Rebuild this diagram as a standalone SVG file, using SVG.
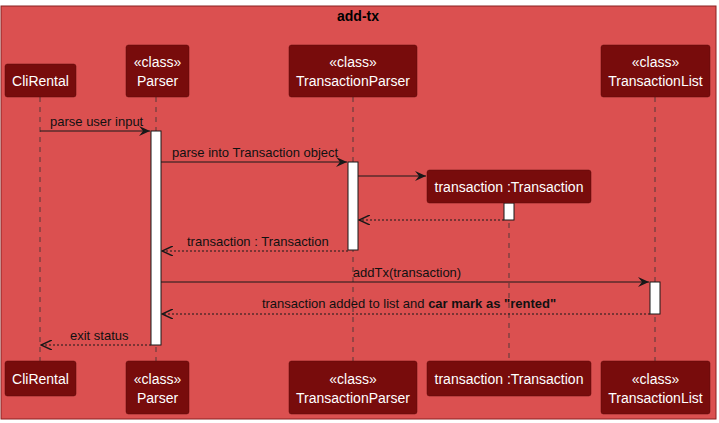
<svg xmlns="http://www.w3.org/2000/svg" width="719" height="423" viewBox="0 0 719 423">
<defs>
<style>
.p{fill:#780C0C;stroke:#5A0A0A;stroke-width:0.5}
.pt{fill:#FFFFFF;font-family:"Liberation Sans",Arial,sans-serif;font-size:14px;text-anchor:middle}
.ll{stroke:#333;stroke-width:0.8;stroke-dasharray:5,5}
.act{fill:#FFFFFF;stroke:#181818;stroke-width:1}
.m{stroke:#181818;stroke-width:1;fill:none}
.r{stroke:#181818;stroke-width:1;fill:none;stroke-dasharray:2,2}
.ml{fill:#111;font-family:"Liberation Sans",Arial,sans-serif;font-size:13px}
</style>
<marker id="ah" viewBox="0 0 12 10" refX="11" refY="5" markerWidth="12" markerHeight="10" markerUnits="userSpaceOnUse" orient="auto">
<polygon points="0,0 11,5 0,10 4,5" fill="#181818"/>
</marker>
<marker id="oh" viewBox="0 0 12 10" refX="11" refY="5" markerWidth="12" markerHeight="10" markerUnits="userSpaceOnUse" orient="auto">
<polyline points="0,0 11,5 0,10" fill="none" stroke="#181818" stroke-width="1.5"/>
</marker>
</defs>
<rect x="1" y="6" width="715" height="413" fill="#DB5050" stroke="#8A2020" stroke-width="1"/>
<text x="358" y="21" font-family="Liberation Sans,Arial,sans-serif" font-size="14" font-weight="bold" text-anchor="middle" fill="#000">add-tx</text>

<g id="lifelines">
<line class="ll" x1="40" y1="97" x2="40" y2="361"/>
<line class="ll" x1="156" y1="97" x2="156" y2="361"/>
<line class="ll" x1="353" y1="97" x2="353" y2="361"/>
<line class="ll" x1="509" y1="203" x2="509" y2="361"/>
<line class="ll" x1="655" y1="97" x2="655" y2="361"/>
</g>

<g id="activations">
<rect class="act" x="151" y="131" width="10" height="214"/>
<rect class="act" x="348" y="162" width="10" height="88"/>
<rect class="act" x="504" y="203" width="10" height="17"/>
<rect class="act" x="650" y="282" width="10" height="32"/>
</g>

<g id="connectors">
<line class="m" x1="40" y1="131" x2="150" y2="131" marker-end="url(#ah)"/>
<text class="ml" x="50" y="126">parse user input</text>
<line class="m" x1="161" y1="162" x2="347" y2="162" marker-end="url(#ah)"/>
<text class="ml" x="172" y="157">parse into Transaction object</text>
<line class="m" x1="358" y1="176" x2="426" y2="176" marker-end="url(#ah)"/>
<line class="r" x1="504" y1="220" x2="359" y2="220" marker-end="url(#oh)"/>
<line class="r" x1="348" y1="251" x2="162" y2="251" marker-end="url(#oh)"/>
<text class="ml" x="187" y="246">transaction : Transaction</text>
<line class="m" x1="161" y1="282" x2="649" y2="282" marker-end="url(#ah)"/>
<text class="ml" x="407" y="277" text-anchor="middle">addTx(transaction)</text>
<line class="r" x1="650" y1="314" x2="162" y2="314" marker-end="url(#oh)"/>
<text class="ml" x="409" y="308" text-anchor="middle">transaction added to list and <tspan font-weight="bold">car mark as "rented"</tspan></text>
<line class="r" x1="151" y1="345" x2="41" y2="345" marker-end="url(#oh)"/>
<text class="ml" x="70" y="340">exit status</text>
</g>

<g id="CliRental-top"><rect class="p" x="5" y="64" width="71" height="33" rx="2.5"/><text class="pt" x="40.5" y="86">CliRental</text></g>
<g id="Parser-top"><rect class="p" x="126" y="45" width="63" height="52" rx="2.5"/><text class="pt" x="157.5" y="67">«class»</text><text class="pt" x="157.5" y="86">Parser</text></g>
<g id="TransactionParser-top"><rect class="p" x="289" y="45" width="128" height="52" rx="2.5"/><text class="pt" x="353" y="67">«class»</text><text class="pt" x="353" y="86">TransactionParser</text></g>
<g id="Transaction-top"><rect class="p" x="427" y="170" width="164" height="33" rx="2.5"/><text class="pt" x="509" y="192">transaction :Transaction</text></g>
<g id="TransactionList-top"><rect class="p" x="601" y="45" width="109" height="52" rx="2.5"/><text class="pt" x="655.5" y="67">«class»</text><text class="pt" x="655.5" y="86">TransactionList</text></g>

<g id="CliRental-bottom"><rect class="p" x="5" y="361" width="71" height="35" rx="2.5"/><text class="pt" x="40.5" y="384">CliRental</text></g>
<g id="Parser-bottom"><rect class="p" x="126" y="361" width="63" height="53" rx="2.5"/><text class="pt" x="157.5" y="384">«class»</text><text class="pt" x="157.5" y="403">Parser</text></g>
<g id="TransactionParser-bottom"><rect class="p" x="289" y="361" width="128" height="53" rx="2.5"/><text class="pt" x="353" y="384">«class»</text><text class="pt" x="353" y="403">TransactionParser</text></g>
<g id="Transaction-bottom"><rect class="p" x="427" y="361" width="164" height="35" rx="2.5"/><text class="pt" x="509" y="384">transaction :Transaction</text></g>
<g id="TransactionList-bottom"><rect class="p" x="601" y="361" width="109" height="53" rx="2.5"/><text class="pt" x="655.5" y="384">«class»</text><text class="pt" x="655.5" y="403">TransactionList</text></g>
</svg>
